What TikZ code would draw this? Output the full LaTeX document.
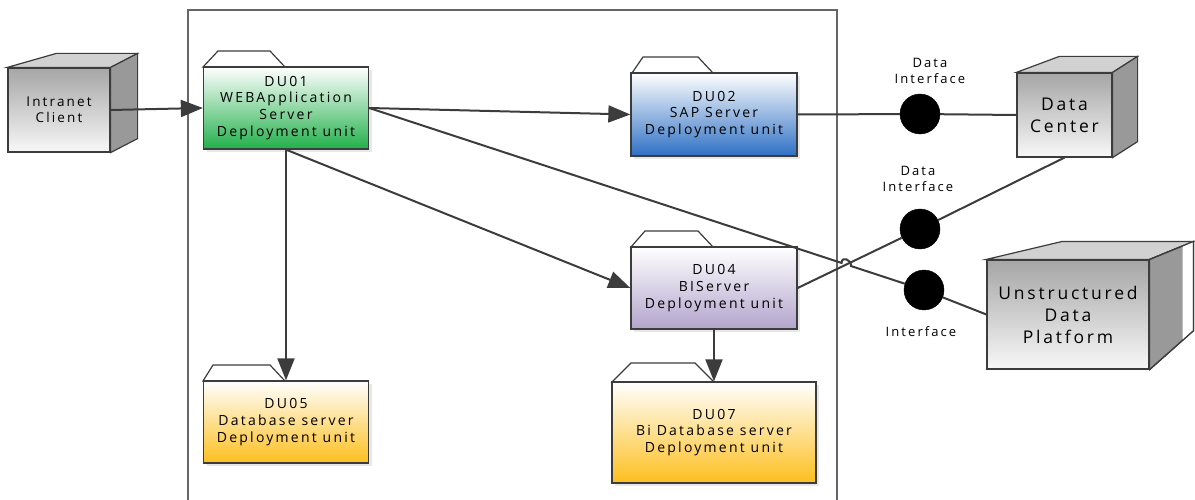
\documentclass[tikz,border=0pt]{standalone}
\usepackage{fontspec}
\setmainfont[LetterSpace=16]{Open Sans}
\usetikzlibrary{arrows.meta,calc,intersections,shadows}

\definecolor{edge}{HTML}{3C3C3C}
\definecolor{duGreen}{HTML}{22B04B}
\definecolor{duBlue}{HTML}{2E70C4}
\definecolor{duPurple}{HTML}{B2A4CC}
\definecolor{duOrange}{HTML}{FDBF1E}

\tikzset{
  dubox/.style={rectangle, draw=edge, line width=1.3pt, align=center, inner sep=0pt,
    font=\fontsize{14}{16.8}\selectfont, top color=white,
    drop shadow={shadow xshift=3pt, shadow yshift=-3pt, fill=black!9, opacity=1}},
  tab/.style={draw=edge, line width=1.2pt, fill=white},
  cubeface/.style={rectangle, draw=edge, line width=1.2pt, align=center, inner sep=0pt,
    top color=black!35, bottom color=black!3},
  cubetop/.style={draw=edge, line width=1.2pt, fill=black!18},
  cubeside/.style={draw=edge, line width=1.2pt, fill=black!40},
  port/.style={circle, fill=black, draw=black, minimum size=40pt, inner sep=0pt},
  portlabel/.style={align=center, font=\fontsize{13}{16.5}\selectfont},
  link/.style={draw=edge, line width=2pt},
  flow/.style={link, -{Triangle[length=22pt,width=17pt]}},
  boundary/.style={draw=black!60, line width=1.5pt}
}

\begin{document}
\begin{tikzpicture}[x=1pt,y=-1pt]
\useasboundingbox (0,0) rectangle (1195,500);

% deployment boundary
\draw[boundary] (188,506) -- (188,10) -- (837,10) -- (837,506);

% client node
\node[cubeface, minimum width=102pt, minimum height=84pt,
      font=\fontsize{13.5}{16}\selectfont] (ic) at (59,110) {Intranet\\Client};
\draw[cubetop] (ic.north west) -- ++(49,-14) -- ([shift={(27,-14)}]ic.north east) -- (ic.north east) -- cycle;
\draw[cubeside] (ic.north east) -- ++(27,-14) -- ([shift={(27,-14)}]ic.south east) -- (ic.south east) -- cycle;

% deployment units (tabs first, boxes on top)
\draw[tab] (203,67) -- (218,51) -- (270,51) -- (285,67) -- cycle;
\node[dubox, bottom color=duGreen, minimum width=165pt, minimum height=82pt] (du1) at (286,108)
  {DU01\\WEBApplication\\Server\\Deployment unit};

\draw[tab] (632,73) -- (643,57) -- (698,57) -- (713,73) -- cycle;
\node[dubox, bottom color=duBlue, minimum width=166pt, minimum height=83pt] (du2) at (714,114.5)
  {DU02\\SAP Server\\Deployment unit};

\draw[tab] (631,247) -- (645,231) -- (698,231) -- (713,247) -- cycle;
\node[dubox, bottom color=duPurple, minimum width=166pt, minimum height=82pt] (du4) at (714,288)
  {DU04\\BIServer\\Deployment unit};

\draw[tab] (203,381) -- (213,365) -- (270,365) -- (285,381) -- cycle;
\node[dubox, bottom color=duOrange, minimum width=165pt, minimum height=82pt] (du5) at (286,422)
  {DU05\\Database server\\Deployment unit};

\draw[tab] (612,382) -- (631,363) -- (695,363) -- (714,382) -- cycle;
\node[dubox, bottom color=duOrange, minimum width=204pt, minimum height=101pt] (du7) at (714,432.5)
  {DU07\\Bi Database server\\Deployment unit};

% external nodes
\node[cubeface, minimum width=95pt, minimum height=84pt,
      font=\fontsize{17.5}{22}\selectfont] (dc) at (1064.5,115) {Data\\Center};
\draw[cubetop] (dc.north west) -- ++(43,-16) -- ([shift={(25,-16)}]dc.north east) -- (dc.north east) -- cycle;
\draw[cubeside] (dc.north east) -- ++(25,-16) -- ([shift={(25,-16)}]dc.south east) -- (dc.south east) -- cycle;

\node[cubeface, minimum width=162pt, minimum height=109pt,
      font=\fontsize{17.5}{22}\selectfont] (up) at (1068,314.5) {Unstructured\\Data\\Platform};
\draw[cubetop] (up.north west) -- ++(76,-18) -- ([shift={(44,-18)}]up.north east) -- (up.north east) -- cycle;
\draw[cubeside] (up.north east) -- ++(44,-18) -- ([shift={(44,-39)}]up.south east) -- (up.south east) -- cycle;
\fill[white] ([shift={(33,-14)}]up.north east) -- ([shift={(43,-18)}]up.north east)
  -- ([shift={(43,-39)}]up.south east) -- ([shift={(33,-30)}]up.south east) -- cycle;
\draw[cubeside, fill=none] (up.north east) -- ++(44,-18) -- ([shift={(44,-39)}]up.south east) -- (up.south east);

% interface ports
\node[port] (if1) at (920,114) {};
\node[port] (if2) at (920,229) {};
\node[port] (if3) at (924,290) {};
\node[portlabel] (l1) at (930,71) {Data\\Interface};
\node[portlabel] (l2) at (918,179) {Data\\Interface};
\node[portlabel] (l3) at (921,332) {Interface};

% connectors
\draw[flow] (ic.east) -- (du1.west);
\draw[flow] (du1.east) -- (du2.west);
\draw[flow] (du1.south) -- (du4.west);
\draw[flow] (du1.south) -- (du5.north);
\draw[flow] (du4.south) -- (du7.north);

\draw[link] (du2.east) -- (if1) -- (dc.west);
\draw[link, name path=dcline] (du4.east) -- (if2) -- (dc.south);

\path[name path=upline] (du1.east) -- (if3);
\path[name intersections={of=dcline and upline, by=hop}];
\coordinate (hopA) at ($(hop)!5pt!(du1.east)$);
\coordinate (hopB) at ($(hop)!5pt!(if3)$);
\draw[link] (du1.east) -- (hopA) .. controls ($(hopA)+(0,-7)$) and ($(hopB)+(0,-7)$) .. (hopB) -- (if3) -- (up.west);
\end{tikzpicture}
\end{document}
